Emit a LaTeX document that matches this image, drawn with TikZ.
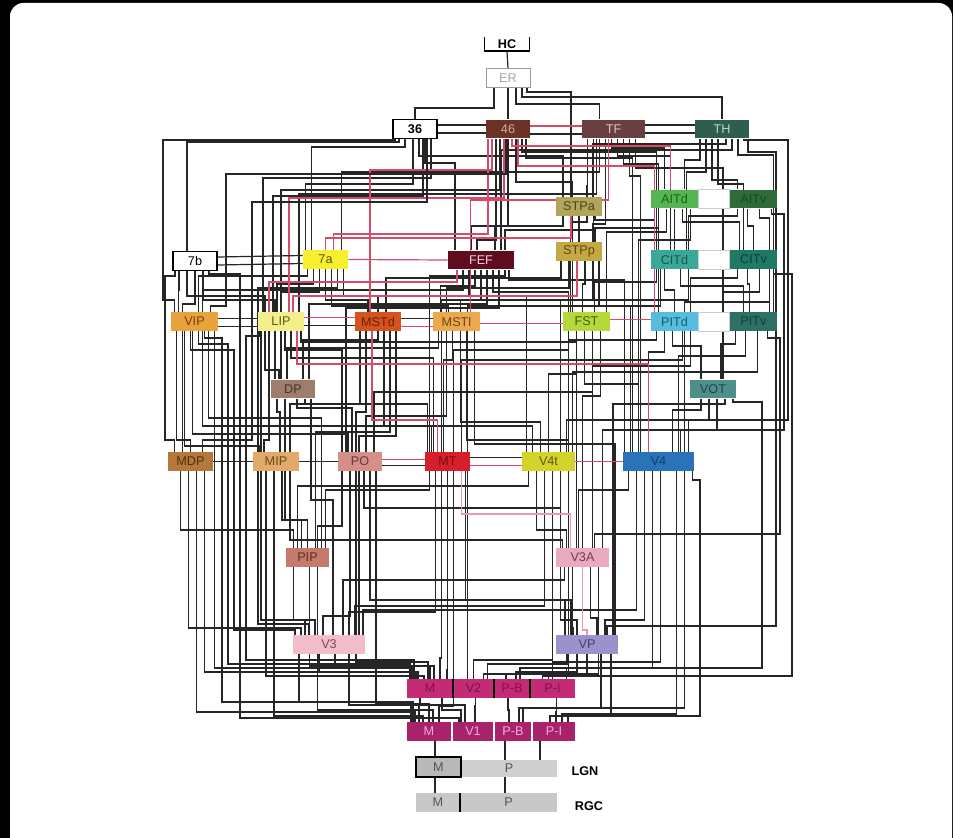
\documentclass[tikz,border=0pt]{standalone}
\usepackage{fontspec}
\setmainfont{Liberation Sans}
\usetikzlibrary{calc}

% area colours: fill / text
\definecolor{cER}{HTML}{9A9A9A}
\definecolor{c46}{HTML}{6B3326}\definecolor{t46}{HTML}{D9A79A}
\definecolor{cTF}{HTML}{6A3F3F}\definecolor{tTF}{HTML}{E3C2C2}
\definecolor{cTH}{HTML}{2F5E4C}\definecolor{tTH}{HTML}{B5D6C6}
\definecolor{cSTPa}{HTML}{B0A55A}\definecolor{tSTPa}{HTML}{4B4320}
\definecolor{cSTPp}{HTML}{C4A844}\definecolor{tSTPp}{HTML}{5A4A15}
\definecolor{cAITd}{HTML}{55B552}\definecolor{tAITd}{HTML}{1F5E1F}
\definecolor{cAITv}{HTML}{2E6B38}\definecolor{tAITv}{HTML}{1C4722}
\definecolor{cCITd}{HTML}{3AA899}\definecolor{tCITd}{HTML}{19574F}
\definecolor{cCITv}{HTML}{1D7A66}\definecolor{tCITv}{HTML}{0D3F34}
\definecolor{cPITd}{HTML}{56BDE0}\definecolor{tPITd}{HTML}{1F5A70}
\definecolor{cPITv}{HTML}{2D7065}\definecolor{tPITv}{HTML}{133C35}
\definecolor{cVOT}{HTML}{4E8F8C}\definecolor{tVOT}{HTML}{1E4644}
\definecolor{cFEF}{HTML}{5E0C1E}\definecolor{tFEF}{HTML}{F0D0D6}
\definecolor{c7a}{HTML}{F5EF2E}\definecolor{t7a}{HTML}{5A5410}
\definecolor{cVIP}{HTML}{E9A23C}\definecolor{tVIP}{HTML}{6B4210}
\definecolor{cLIP}{HTML}{F3F08C}\definecolor{tLIP}{HTML}{5B5520}
\definecolor{cMSTd}{HTML}{D4531F}\definecolor{tMSTd}{HTML}{6A200A}
\definecolor{cMSTl}{HTML}{ECA84C}\definecolor{tMSTl}{HTML}{6B4515}
\definecolor{cFST}{HTML}{B4D93B}\definecolor{tFST}{HTML}{465A10}
\definecolor{cDP}{HTML}{9E7E6A}\definecolor{tDP}{HTML}{4A3528}
\definecolor{cMDP}{HTML}{B3783A}\definecolor{tMDP}{HTML}{4E3010}
\definecolor{cMIP}{HTML}{E2AA68}\definecolor{tMIP}{HTML}{6B4A20}
\definecolor{cPO}{HTML}{D49088}\definecolor{tPO}{HTML}{6A3A35}
\definecolor{cMT}{HTML}{D51F2A}\definecolor{tMT}{HTML}{7A0A10}
\definecolor{cV4t}{HTML}{D5D22C}\definecolor{tV4t}{HTML}{5C5A10}
\definecolor{cV4}{HTML}{2A73B8}\definecolor{tV4}{HTML}{123E68}
\definecolor{cPIP}{HTML}{C67A6C}\definecolor{tPIP}{HTML}{5D2F26}
\definecolor{cV3A}{HTML}{EAAAC2}\definecolor{tV3A}{HTML}{6E4050}
\definecolor{cV3}{HTML}{F2BCC8}\definecolor{tV3}{HTML}{7A4A55}
\definecolor{cVP}{HTML}{9B92CC}\definecolor{tVP}{HTML}{45406A}
\definecolor{cV2}{HTML}{C42A75}\definecolor{tV2}{HTML}{7A1645}
\definecolor{cV1}{HTML}{A8226C}\definecolor{tV1}{HTML}{EDB2D2}
\definecolor{cLGNM}{HTML}{B8B8B8}\definecolor{cLGNP}{HTML}{CFCFCF}
\definecolor{cRGC}{HTML}{C8C8C8}\definecolor{tGray}{HTML}{555555}
\definecolor{wred}{HTML}{D64A6A}
\definecolor{wpink}{HTML}{E89AB2}

\pgfdeclarelayer{paper}
\pgfdeclarelayer{wires}
\pgfsetlayers{paper,wires,main}

\tikzset{
    area/.style n args={3}{fill=#1, text=#2, minimum width=#3*0.75pt,
        minimum height=14pt, inner sep=0pt, font=\fontsize{9.5}{9.5}\selectfont},
    wire/.style={line width=0.9pt, draw=black!85},
    redwire/.style={line width=0.9pt, draw=wred},
    pinkwire/.style={line width=0.9pt, draw=wpink},
    strip/.style={draw=black!20, fill=white, line width=0.6pt},
    divider/.style={line width=1.6pt, draw=black},
    tag/.style={font=\fontsize{9.5}{9.5}\selectfont\bfseries}}

% down from #2 (shifted #3), across at lane #4, down into #5 (shifted #6)
\newcommand\conn[6][wire]{%
    \draw[#1] ($(#2.south)+(#3,0)$) coordinate (p) -- (p |- 0,#4)
        -| ($(#5.north)+(#6,0)$);}
% same, with a detour: across at #4 to x=#5, down to lane #6, into #7
\newcommand\jogconn[8][wire]{%
    \draw[#1] ($(#2.south)+(#3,0)$) coordinate (p) -- (p |- 0,#4)
        -- (#5,#4) -- (#5,#6) -| ($(#7.north)+(#8,0)$);}
% side to side within a row
\newcommand\sideconn[4][wire]{%
    \draw[#1] ($(#2.east)+(0,#4)$) -- ($(#3.west)+(0,#4)$);}

\begin{document}
\begin{tikzpicture}[x=0.75pt,y=0.75pt,yscale=-1,xscale=1]
\useasboundingbox (0,0) rectangle (953,838);

%Paper
\begin{pgfonlayer}{paper}
    \fill[black] (0,0) rectangle (953,838);
    \fill[white, rounded corners=10pt] (10,3) rectangle (952,860);
\end{pgfonlayer}

%Top
\node[tag, minimum width=33pt, minimum height=10pt, inner sep=0pt] (HC) at (507,44) {HC};
\draw[line width=0.9pt] (HC.north west) -- (HC.south west) -- (HC.south east) -- (HC.north east);
\node[area={white}{black!35}{44}, draw=cER] (ER) at (508,78) {ER};
\node[area={white}{black}{44}, draw=black, line width=0.8pt, font=\fontsize{9.5}{9.5}\selectfont\bfseries] (a36) at (415,129) {36};
\node[area={c46}{t46}{44}] (a46) at (508,129) {46};
\node[area={cTF}{tTF}{63}] (TF) at (613.5,129) {TF};
\node[area={cTH}{tTH}{54}] (TH) at (722,129) {TH};

%Temporal
\node[area={cSTPa}{tSTPa}{46}] (STPa) at (579,206.5) {STPa};
\node[area={cSTPp}{tSTPp}{46}] (STPp) at (579,251.5) {STPp};
\node[area={cAITd}{tAITd}{47}] (AITd) at (674.5,199) {AITd};
\node[area={cAITv}{tAITv}{47}] (AITv) at (753.5,199) {AITv};
\node[area={cCITd}{tCITd}{47}] (CITd) at (674.5,259.5) {CITd};
\node[area={cCITv}{tCITv}{47}] (CITv) at (753.5,259.5) {CITv};
\node[area={cPITd}{tPITd}{47}] (PITd) at (674.5,321.5) {PITd};
\node[area={cPITv}{tPITv}{47}] (PITv) at (753.5,321.5) {PITv};
\node[area={cVOT}{tVOT}{46}] (VOT) at (713,389) {VOT};
\draw[strip] (AITd.north east) rectangle (AITv.south west);
\draw[strip] (CITd.north east) rectangle (CITv.south west);
\draw[strip] (PITd.north east) rectangle (PITv.south west);

%Parietal / frontal
\node[area={cFEF}{tFEF}{66}] (FEF) at (481,260) {FEF};
\node[area={c7a}{t7a}{45}] (a7a) at (325.5,259.5) {7a};
\node[area={white}{black}{44}, draw=black, line width=0.8pt] (a7b) at (195,261) {7b};
\node[area={cVIP}{tVIP}{47}] (VIP) at (194.5,321.5) {VIP};
\node[area={cLIP}{tLIP}{46}] (LIP) at (281,321.5) {LIP};
\node[area={cMSTd}{tMSTd}{46}] (MSTd) at (378,321.5) {MSTd};
\node[area={cMSTl}{tMSTl}{47}] (MSTl) at (456.5,321.5) {MSTl};
\node[area={cFST}{tFST}{47}] (FST) at (586.5,321.5) {FST};
\node[area={cDP}{tDP}{44}] (DP) at (293,389) {DP};

%Middle row
\node[area={cMDP}{tMDP}{45}] (MDP) at (190.5,461.5) {MDP};
\node[area={cMIP}{tMIP}{46}] (MIP) at (276,461.5) {MIP};
\node[area={cPO}{tPO}{44}] (PO) at (360,461.5) {PO};
\node[area={cMT}{tMT}{45}] (MT) at (447.5,461.5) {MT};
\node[area={cV4t}{tV4t}{53}] (V4t) at (548.5,461.5) {V4t};
\node[area={cV4}{tV4}{71}] (V4) at (658.5,461.5) {V4};

%Lower areas
\node[area={cPIP}{tPIP}{43}] (PIP) at (307.5,557.5) {PIP};
\node[area={cV3A}{tV3A}{53}] (V3A) at (582.5,557.5) {V3A};
\node[area={cV3}{tV3}{72}] (V3) at (329,644.5) {V3};
\node[area={cVP}{tVP}{62}] (VP) at (587,644.5) {VP};

%V2 and V1
\node[area={cV2}{tV2}{46}] (V2M) at (430,688.5) {M};
\node[area={cV2}{tV2}{41}] (V2c) at (473.5,688.5) {V2};
\node[area={cV2}{tV2}{36}] (V2PB) at (512,688.5) {P-B};
\node[area={cV2}{tV2}{45}] (V2PI) at (552.5,688.5) {P-I};
\foreach \n in {V2M,V2c,V2PB}
    \draw[divider] (\n.north east) -- (\n.south east);
\node[area={cV1}{tV1}{44}] (V1M) at (429,731.5) {M};
\node[area={cV1}{tV1}{40}] (V1c) at (473,731.5) {V1};
\node[area={cV1}{tV1}{36}] (V1PB) at (513,731.5) {P-B};
\node[area={cV1}{tV1}{42}] (V1PI) at (554,731.5) {P-I};

%LGN and RGC
\node[area={cLGNP}{tGray}{96}, minimum height=12.75pt] (LGNP) at (509,768.5) {P};
\node[area={cLGNM}{tGray}{45}, minimum height=15pt, draw=black, line width=1.5pt] (LGNM) at (438.5,767) {M};
\node[area={cRGC}{tGray}{44}] (RGCM) at (438,802.5) {M};
\node[area={cRGC}{tGray}{97}] (RGCP) at (508.5,802.5) {P};
\draw[divider] (RGCM.north east) -- (RGCM.south east);
\node[tag] (LGN) at (585,771) {LGN};
\node[tag] (RGC) at (589,806) {RGC};

\begin{pgfonlayer}{wires}
\draw[wire] (HC.south) -- (ER.north);

%Black pathways
\foreach \src/\dx/\lane/\dst/\ddx in {
    ER/-14/108/a36/0, ER/0/110/a46/0, ER/8/104/TF/-14, ER/14/97/TH/0, ER/19/92/STPa/-8,
    a36/-16/142/a7b/-8, a36/-10/147/a7a/-14, a36/4/156/STPa/-16, a36/10/163/FEF/-26,
    a36/16/178/LIP/-18, a36/-2/184/a7a/-20, a36/8/196/LIP/-8,
    a46/-12/240/FEF/-4, a46/-8/190/LIP/0, a46/0/226/FEF/14, a46/8/182/FST/-14,
    a46/14/152/CITd/-18, a46/18/158/V4/-26,
    TF/-26/186/STPa/8, TF/-20/230/FEF/24, TF/-14/172/a7a/16, TF/-8/224/STPp/14,
    TF/-2/148/AITd/-10, TF/4/156/CITd/-4, TF/10/164/PITd/-16, TF/16/176/V4/-18,
    TF/22/168/VOT/10, TF/-17/194/LIP/18,
    TH/-22/160/AITd/10, TH/-16/172/CITd/12, TH/-10/180/AITv/-16, TH/-4/184/CITv/-10,
    TH/4/144/STPa/14, TH/10/150/FEF/20, TH/16/155/PITv/20,
    AITd/-16/228/STPp/16, AITd/-8/232/FST/20, AITd/0/236/CITd/0, AITd/8/222/CITv/-14,
    AITd/16/240/V4/-20,
    AITv/-16/216/CITd/14, AITv/-6/226/CITv/0, AITv/6/218/PITv/16,
    CITd/-18/282/FST/8, CITd/-10/290/PITd/0, CITd/6/286/PITv/-10, CITd/14/300/V4t/12,
    CITd/-14/306/MT/20,
    CITv/-16/278/PITd/16, CITv/-6/284/PITv/-4, CITv/6/292/VOT/10, CITv/16/302/V4/26,
    PITd/-18/340/V4t/20, PITd/-10/352/V4/-10, PITd/-2/346/VOT/-12, PITd/8/360/MT/14,
    PITd/16/366/V3A/10,
    PITv/-18/344/VOT/8, PITv/-8/356/V4/20, PITv/4/372/V4t/24,
    VOT/-12/410/V4/14, VOT/-4/420/V4t/18, VOT/4/430/V3A/20, VOT/12/404/VP/26,
    STPa/-16/226/FEF/-10, STPa/0/230/STPp/0, STPa/8/222/FST/-16, STPa/16/220/PITd/-20,
    STPp/-18/278/MSTd/8, STPp/-10/288/MSTl/-10, STPp/6/284/FST/-4, STPp/14/300/MT/-6,
    STPp/20/306/V4/-28,
    FEF/-18/290/VIP/8, FEF/-12/296/MSTd/0, FEF/-6/286/MSTl/-16, FEF/0/300/MSTl/4,
    FEF/6/304/DP/16, FEF/12/292/FST/-18, FEF/18/308/PO/-14, FEF/24/276/MT/-18,
    FEF/28/280/V4/-34,
    a7a/-18/276/VIP/4, a7a/-12/284/LIP/-4, a7a/-6/292/DP/-12, a7a/0/300/MSTd/-10,
    a7a/6/306/MSTl/-8, a7a/12/288/MIP/-18, a7a/18/296/V4t/-22,
    a7b/-16/290/VIP/-16, a7b/-8/296/LIP/-16, a7b/0/304/MDP/-8, a7b/8/300/DP/-18,
    VIP/20/668/V2M/-18, VIP/-18/440/MDP/0, VIP/-10/446/MIP/-16, VIP/-2/434/PO/-12,
    VIP/8/426/MT/-16, VIP/14/418/PIP/14,
    MDP/14/672/V2M/-12, MDP/6/712/V1M/-14, MDP/-2/628/V3/-28, MDP/-10/530/PIP/-14,
    MIP/-18/624/V3/-20, MIP/-10/676/V2M/-6, MIP/-2/716/V1M/-6, MIP/6/520/PIP/-6,
    MIP/14/540/V3A/-20,
    LIP/-16/370/DP/-14, LIP/-12/440/MIP/-12, LIP/-20/620/V3/-24, LIP/4/350/PO/-18,
    LIP/10/358/MT/-14, LIP/20/342/V3A/-6,
    MSTd/-18/404/MIP/14, MSTd/-12/412/PO/-4, MSTd/0/340/DP/10, MSTd/6/426/V4t/-16,
    MSTd/12/432/PIP/8, MSTd/18/436/V3/30,
    MSTl/-18/348/DP/-6, MSTl/-10/416/PO/6, MSTl/-4/360/MT/-4, MSTl/4/422/V4t/-8,
    MSTl/10/440/V3A/-14, MSTl/18/444/VP/28,
    FST/-18/350/MT/6, FST/-10/374/V4t/0, FST/-2/384/V4/-20, FST/6/392/PO/14,
    FST/14/396/V3A/0,
    DP/-16/412/MIP/4, DP/-8/520/PIP/0, DP/4/408/PO/-8, DP/12/404/MT/-20, DP/18/500/V3/4,
    PO/-18/526/PIP/10, PO/-10/616/V3/-6, PO/-4/662/V2M/-2, PO/4/508/V3A/-22,
    PO/10/600/VP/-22, PO/16/704/V1M/0,
    MT/-18/490/PIP/18, MT/-12/612/V3/20, MT/-6/658/V2M/10, MT/0/670/V2M/17,
    MT/6/706/V1M/10, MT/18/600/VP/-16, MT/20/676/V2c/-6,
    V4t/-20/486/PIP/-10, V4t/-12/530/V3A/-16, V4t/-4/606/V3/26, V4t/4/660/V2c/0,
    V4t/12/620/VP/-10, V4t/20/674/V2PB/-6,
    V4/-30/490/V3A/-4, V4/-22/610/V3/34, V4/-14/620/VP/18, V4/-6/668/V2PB/8,
    V4/2/662/V2PI/0, V4/18/714/V1PI/8, V4/26/708/V1PB/6,
    PIP/-14/620/V3/-14, PIP/2/666/V2M/4, PIP/10/710/V1M/4,
    V3A/-18/580/V3/14, V3A/-10/628/VP/-14, V3A/8/618/VP/10, V3A/16/674/V2c/10,
    V3/-30/702/V1M/-16, V3/-10/672/V2M/-14, V3/6/666/V2M/0, V3/20/705/V1c/-8,
    VP/-20/664/V2c/14, VP/-10/672/V2PB/4, VP/0/676/V2PI/-4, VP/14/708/V1PB/10,
    VP/24/716/V1PI/-4,
    V2M/-10/704/V1M/-10, V2M/12/710/V1c/-12, V2c/2/706/V1c/2, V2PB/-4/710/V1PB/-4,
    V2PI/4/712/V1PI/2,
    V1M/6/750/LGNM/-3.5, V1PB/-8/750/LGNP/-4, V1PI/-14/752/LGNP/31,
    LGNM/-3.5/785/RGCM/-3, LGNP/-4/785/RGCP/-3.5}
    \conn{\src}{\dx}{\lane}{\dst}{\ddx};

%Red pathways
\foreach \src/\dx/\lane/\dst/\ddx in {
    a46/-20/234/a7a/8, a46/-16/170/MSTd/-8, a46/4/146/AITd/-4, a46/-4/198/LIP/8,
    a46/10/166/PITd/-20, TF/-5/200/MSTl/14, STPa/-8/238/a7a/0, STPp/-2/296/LIP/12,
    FEF/-24/282/LIP/-12, LIP/16/364/V4/-10, MSTd/-6/420/MT/-10}
    \conn[redwire]{\src}{\dx}{\lane}{\dst}{\ddx};
\conn[pinkwire]{MT}{14}{514}{V3A}{-12}
\conn[pinkwire]{V3A}{0}{630}{VP}{0}

%Detours round the edges
\jogconn{TH}{22}{140}{788}{420}{V4}{30}
\jogconn{AITv}{18}{214}{784}{430}{V4}{22}
\jogconn{PITv}{14}{338}{780}{534}{V3A}{12}
\jogconn{VOT}{20}{402}{762}{668}{V2PI}{14}
\jogconn{CITv}{20}{274}{792}{676}{V2PI}{-10}
\jogconn{TH}{26}{152}{776}{626}{VP}{20}
\jogconn{V4}{34}{480}{700}{716}{V1PI}{14}
\jogconn{a7b}{-20}{276}{165}{440}{MDP}{-16}
\jogconn{a36}{-20}{140}{163}{300}{VIP}{-20}
\jogconn{a46}{-2}{174}{226}{306}{VIP}{16}
\jogconn{a36}{12}{202}{252}{440}{MDP}{12}
\jogconn{VIP}{10}{338}{222}{702}{V1M}{-18}
\jogconn{VIP}{4}{344}{228}{664}{V2M}{-20}
\jogconn{VIP}{-4}{350}{234}{630}{V3}{-34}
\jogconn{a7b}{14}{274}{240}{718}{V1c}{-14}
\jogconn{LIP}{-22}{336}{246}{660}{V2M}{-16}

%Within a row
\foreach \a/\b/\dy in {a36/a46/-4, a36/a46/4, a46/TF/5, TF/TH/-4, TF/TH/4,
    a7b/a7a/-4, a7b/a7a/4, VIP/LIP/-3, VIP/LIP/5, LIP/MSTd/4, MSTd/MSTl/-3,
    MDP/MIP/0, MIP/PO/0, PO/MT/4, MT/V4t/-4}
    \sideconn{\a}{\b}{\dy};
\foreach \a/\b/\dy in {a46/TF/-3, a7a/FEF/0, LIP/MSTd/-4, MSTd/MSTl/5, MSTl/FST/2,
    FST/PITd/-2, PO/MT/-2, MT/V4t/4, V4t/V4/0}
    \sideconn[redwire]{\a}{\b}{\dy};
\end{pgfonlayer}
\end{tikzpicture}
\end{document}
